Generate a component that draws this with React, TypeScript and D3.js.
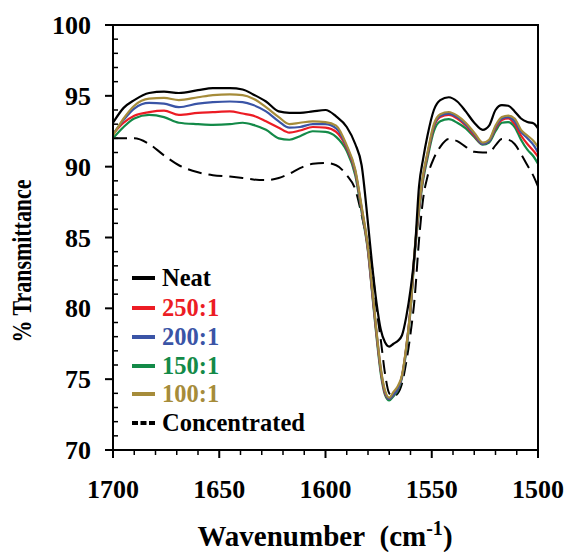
import React from "react";
import * as d3 from "d3";

const wavenumbers = [1700, 1695, 1690, 1683, 1676, 1669, 1660, 1653, 1645, 1639, 1634, 1628, 1622, 1617, 1612, 1606, 1600, 1595, 1590, 1586, 1583, 1580, 1578, 1576, 1574, 1572, 1570, 1568, 1566, 1564, 1562, 1560, 1558, 1556, 1554, 1552, 1549, 1546, 1542, 1538, 1534, 1530, 1526, 1523, 1520, 1517, 1514, 1511, 1508, 1505, 1502, 1500];

const neat = [93.1, 94.15, 94.7, 95.2, 95.3, 95.2, 95.4, 95.55, 95.55, 95.45, 95.1, 94.6, 93.9, 93.8, 93.8, 93.9, 94.0, 93.55, 92.8, 91.6, 90.1, 86.0, 83.0, 80.4, 78.5, 77.6, 77.3, 77.5, 77.7, 78.1, 79.4, 81.3, 84.0, 88.6, 90.6, 92.2, 94.0, 94.7, 94.9, 94.6, 93.9, 93.1, 92.6, 92.9, 94.0, 94.35, 94.3, 93.9, 93.4, 93.15, 93.05, 92.7];

const r250 = [92.3, 93.1, 93.6, 93.85, 93.95, 93.65, 93.8, 93.85, 93.9, 93.75, 93.6, 93.2, 92.75, 92.4, 92.55, 92.8, 92.75, 92.45, 91.3, 89.6, 87.0, 84.1, 81.1, 78.2, 75.6, 74.0, 73.6, 73.9, 74.3, 75.2, 77.2, 80.0, 84.0, 87.0, 89.3, 90.8, 92.8, 93.5, 93.65, 93.4, 92.9, 92.2, 91.6, 91.8, 92.7, 93.3, 93.4, 93.0, 92.2, 91.6, 91.1, 90.7];

const r200 = [92.3, 93.3, 94.1, 94.5, 94.45, 94.2, 94.45, 94.55, 94.6, 94.55, 94.35, 93.9, 93.2, 92.75, 92.8, 93.0, 93.0, 92.7, 91.4, 89.7, 87.1, 84.2, 81.2, 78.3, 75.7, 74.1, 73.6, 73.9, 74.3, 75.2, 77.2, 80.0, 84.1, 87.1, 89.4, 90.9, 92.9, 93.6, 93.75, 93.5, 93.0, 92.3, 91.6, 91.8, 92.8, 93.4, 93.5, 93.2, 92.45, 92.0, 91.5, 91.0];

const r150 = [92.0, 92.8, 93.4, 93.65, 93.5, 93.1, 93.0, 92.95, 93.0, 93.1, 92.95, 92.6, 92.0, 91.9, 92.15, 92.5, 92.45, 92.1, 91.1, 89.4, 86.8, 84.0, 81.0, 78.0, 75.4, 73.9, 73.5, 73.8, 74.2, 75.1, 77.0, 79.8, 83.8, 86.8, 89.1, 90.6, 92.5, 93.2, 93.35, 93.1, 92.7, 92.1, 91.55, 91.7, 92.5, 93.1, 93.15, 92.8, 91.9, 91.2, 90.7, 90.2];

const r100 = [92.2, 93.4, 94.3, 94.8, 94.85, 94.7, 94.9, 95.05, 95.1, 95.05, 94.8, 94.2, 93.5, 93.0, 93.1, 93.2, 93.15, 92.9, 91.5, 89.8, 87.2, 84.3, 81.4, 78.4, 75.8, 74.2, 73.7, 74.1, 74.5, 75.3, 77.3, 80.0, 84.2, 87.2, 89.5, 91.0, 93.0, 93.7, 93.86, 93.6, 93.1, 92.4, 91.7, 91.9, 92.9, 93.5, 93.6, 93.4, 92.6, 92.2, 91.8, 91.4];

const concentrated = [92.0, 92.0, 92.0, 91.6, 90.8, 90.1, 89.6, 89.4, 89.3, 89.2, 89.1, 89.05, 89.2, 89.5, 89.9, 90.2, 90.26, 90.1, 89.4, 88.4, 86.6, 84.4, 82.8, 80.0, 77.8, 75.4, 74.0, 73.8, 74.0, 74.7, 76.2, 78.2, 80.8, 84.8, 87.8, 89.3, 90.6, 91.4, 91.95, 91.8, 91.4, 91.05, 91.0, 91.0, 91.5, 91.95, 91.9, 91.6, 90.9, 90.1, 89.3, 88.6];

const seriesNames = ["Neat", "250:1", "200:1", "150:1", "100:1", "Concentrated"];
const seriesColors = ["#000000", "#ec1c24", "#3a54a6", "#138a48", "#a68c3a", "#000000"];

const xTicks = [1700, 1650, 1600, 1550, 1500];
const yTicks = [70, 75, 80, 85, 90, 95, 100];

const FONT = "Liberation Serif, Times New Roman, DejaVu Serif, serif";

export default function App() {
  const left = 113, right = 538, top = 25, bottom = 450;
  const x = d3.scaleLinear().domain([1700, 1500]).range([left, right]);
  const y = d3.scaleLinear().domain([70, 100]).range([bottom, top]);

  const line = d3
    .line<number>()
    .x((_, i) => x(wavenumbers[i]))
    .y((v) => y(v))
    .curve(d3.curveMonotoneX);

  const allSeries = [neat, r250, r200, r150, r100, concentrated];
  const drawOrder = [5, 3, 1, 2, 4, 0];

  const xMinor = d3.range(1700, 1499, -10).filter((v) => v % 50 !== 0);
  const yMinor = d3.range(70, 100.5, 1).filter((v) => v % 5 !== 0);

  const legendY = [278, 308, 337, 366, 394, 423];
  const textStyle = { fontFamily: FONT, fontWeight: 700 } as React.CSSProperties;

  return (
    <svg width={569} height={552} style={{ position: "absolute", left: 0, top: 0, background: "#fff" }}>
      <rect x={0} y={0} width={569} height={552} fill="#fff" />
      <defs>
        <clipPath id="plot">
          <rect x={left} y={top} width={right - left} height={bottom - top} />
        </clipPath>
      </defs>
      <g clipPath="url(#plot)">
        {drawOrder.map((i) => (
          <path
            key={i}
            d={line(allSeries[i]) || ""}
            fill="none"
            stroke={seriesColors[i]}
            strokeWidth={i === 5 ? 2 : 2.2}
            strokeDasharray={i === 5 ? "14,7" : undefined}
          />
        ))}
      </g>
      <rect x={left} y={top} width={right - left} height={bottom - top} fill="none" stroke="#000" strokeWidth={2} />
      {xTicks.map((t) => (
        <g key={"xt" + t}>
          <line x1={x(t)} x2={x(t)} y1={bottom} y2={bottom + 8} stroke="#000" strokeWidth={2} />
          <text x={x(t)} y={498} textAnchor="middle" style={textStyle} fontSize={26}>
            {t}
          </text>
        </g>
      ))}
      {xMinor.map((t) => (
        <line key={"xm" + t} x1={x(t)} x2={x(t)} y1={bottom} y2={bottom + 5} stroke="#000" strokeWidth={1.5} />
      ))}
      {yTicks.map((t) => (
        <g key={"yt" + t}>
          <line x1={left - 8} x2={left} y1={y(t)} y2={y(t)} stroke="#000" strokeWidth={2} />
          <text x={91} y={y(t) + 9} textAnchor="end" style={textStyle} fontSize={26}>
            {t}
          </text>
        </g>
      ))}
      {yMinor.map((t) => (
        <line key={"ym" + t} x1={left} x2={left + 5} y1={y(t)} y2={y(t)} stroke="#000" strokeWidth={1.5} />
      ))}
      <text
        transform="translate(31,261) rotate(-90)"
        textAnchor="middle"
        style={textStyle}
        fontSize={27}
        textLength={163}
        lengthAdjust="spacingAndGlyphs"
      >
        % Transmittance
      </text>
      <text x={325} y={546} textAnchor="middle" style={textStyle} fontSize={29}>
        <tspan>{"Wavenumber\u00a0\u00a0(cm"}</tspan>
        <tspan dy={-11} fontSize={20}>-1</tspan>
        <tspan dy={11}>)</tspan>
      </text>
      {seriesNames.map((name, i) => (
        <g key={"lg" + i}>
          <line
            x1={132}
            x2={155}
            y1={legendY[i]}
            y2={legendY[i]}
            stroke={seriesColors[i]}
            strokeWidth={4}
            strokeDasharray={i === 5 ? "6,2.5" : undefined}
          />
          <text x={162} y={legendY[i] + 8} style={textStyle} fontSize={24.5} fill={seriesColors[i]}>
            {name}
          </text>
        </g>
      ))}
    </svg>
  );
}
